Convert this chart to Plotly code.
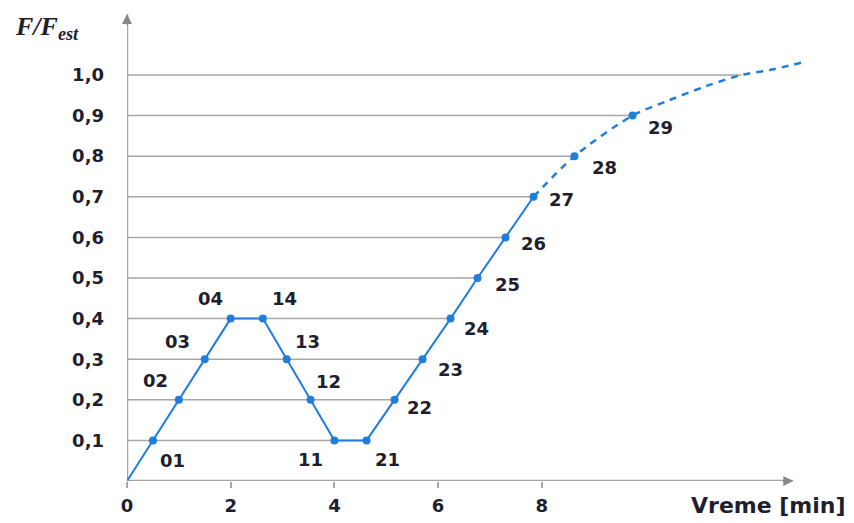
import plotly.graph_objects as go

# ---- data ----
labels = ["01", "02", "03", "04", "14", "13", "12", "11", "21",
          "22", "23", "24", "25", "26", "27", "28", "29"]
t_min = [0.5, 1.0, 1.5, 2.0, 2.62, 3.08, 3.54, 4.0, 4.62,
         5.16, 5.70, 6.24, 6.76, 7.30, 7.84, 8.63, 9.75]
f_rel = [0.1, 0.2, 0.3, 0.4, 0.4, 0.3, 0.2, 0.1, 0.1,
         0.2, 0.3, 0.4, 0.5, 0.6, 0.7, 0.8, 0.9]
# dashed extrapolation beyond point 29
ext_t = [10.46, 11.18, 11.85, 12.39, 13.0]
ext_f = [0.938, 0.973, 1.0, 1.012, 1.03]

# label offsets (pixels) relative to each point
lab_dx = [20, -23, -27, -20, 22, 21, 18, -24, 21, 25, 28, 26, 30, 28, 28, 30, 28]
lab_dy = [-20, 19, 18, 20, 20, 18, 18, -19, -19, -8, -10, -10, -7, -6, -3, -11, -12]

y_ticks = [0.1, 0.2, 0.3, 0.4, 0.5, 0.6, 0.7, 0.8, 0.9, 1.0]
y_text = ["0,1", "0,2", "0,3", "0,4", "0,5", "0,6", "0,7", "0,8", "0,9", "1,0"]
x_ticks = [0, 2, 4, 6, 8]

BLUE = "#1f7ddc"
GRID = "#a6a6a6"
TXT = "#1e1e2e"
FONT = "DejaVu Sans"

fig = go.Figure()

# grid lines: from y axis to the last point reaching that level
all_t = t_min + ext_t
all_f = f_rel + ext_f
for lv in y_ticks:
    xs = [tt for tt, ff in zip(all_t, all_f) if abs(ff - lv) < 1e-6]
    fig.add_shape(type="line", x0=0, x1=max(xs), y0=lv, y1=lv,
                  line=dict(color=GRID, width=1.5), layer="below")

# axes lines with arrows
X_END, Y_END = 12.85, 1.15
fig.add_shape(type="line", x0=0, x1=X_END, y0=0, y1=0,
              line=dict(color=GRID, width=2.5), layer="below")
fig.add_shape(type="line", x0=0, x1=0, y0=0, y1=Y_END,
              line=dict(color=GRID, width=2.5), layer="below")
fig.add_annotation(x=X_END, y=0, ax=-12, ay=0, text="", showarrow=True,
                   arrowhead=2, arrowsize=1, arrowwidth=2, arrowcolor="#888")
fig.add_annotation(x=0, y=Y_END, ax=0, ay=12, text="", showarrow=True,
                   arrowhead=2, arrowsize=1, arrowwidth=2, arrowcolor="#888")

# solid part: origin through point 27
n_solid = labels.index("27") + 1
fig.add_trace(go.Scatter(x=[0] + t_min[:n_solid], y=[0] + f_rel[:n_solid],
                         mode="lines", line=dict(color=BLUE, width=2),
                         hoverinfo="skip", showlegend=False, cliponaxis=False))
# dashed part: 27 onward
fig.add_trace(go.Scatter(x=t_min[n_solid - 1:] + ext_t, y=f_rel[n_solid - 1:] + ext_f,
                         mode="lines", line=dict(color=BLUE, width=2.5, dash="7px,6px",
                                                 shape="spline", smoothing=0.8),
                         hoverinfo="skip", showlegend=False, cliponaxis=False))
# markers
fig.add_trace(go.Scatter(x=t_min, y=f_rel, mode="markers",
                         marker=dict(color=BLUE, size=8),
                         showlegend=False, cliponaxis=False))

for lab, tt, ff, dx, dy in zip(labels, t_min, f_rel, lab_dx, lab_dy):
    fig.add_annotation(x=tt, y=ff, text="<b>" + lab + "</b>", showarrow=False,
                       xshift=dx, yshift=dy,
                       font=dict(family=FONT, size=18, color=TXT))

# axis titles
fig.add_annotation(xref="paper", yref="paper", x=-0.163, y=0.962, xanchor="left",
                   yanchor="middle",
                   text="<b><i>F/F<sub>est</sub></i></b>", showarrow=False,
                   font=dict(family="Liberation Serif", size=26, color=TXT))
fig.add_annotation(xref="paper", yref="paper", x=1.03, y=-0.051, xanchor="right",
                   yanchor="middle", text="<b>Vreme [min]</b>", showarrow=False,
                   font=dict(family=FONT, size=22, color=TXT))

# page body has an 8px margin: size the figure so the plot lands where the reference has it
fig.update_layout(
    width=846, height=515,
    margin=dict(l=119, r=27, t=2, b=42),
    plot_bgcolor="white", paper_bgcolor="white",
    xaxis=dict(range=[0, 13.5], showgrid=False, zeroline=False, showline=False,
               automargin=False,
               tickvals=x_ticks, ticktext=["<b>%d</b>" % v for v in x_ticks],
               ticks="outside", ticklen=6, tickwidth=2, tickcolor=GRID,
               ticklabelstandoff=2,
               tickfont=dict(family=FONT, size=18, color=TXT)),
    yaxis=dict(range=[0, 1.16], showgrid=False, zeroline=False, showline=False,
               automargin=False,
               tickvals=y_ticks, ticktext=["<b>%s</b>" % s for s in y_text], ticks="",
               ticklabelstandoff=22,
               tickfont=dict(family=FONT, size=18, color=TXT)),
)

fig.write_html("out.html")
